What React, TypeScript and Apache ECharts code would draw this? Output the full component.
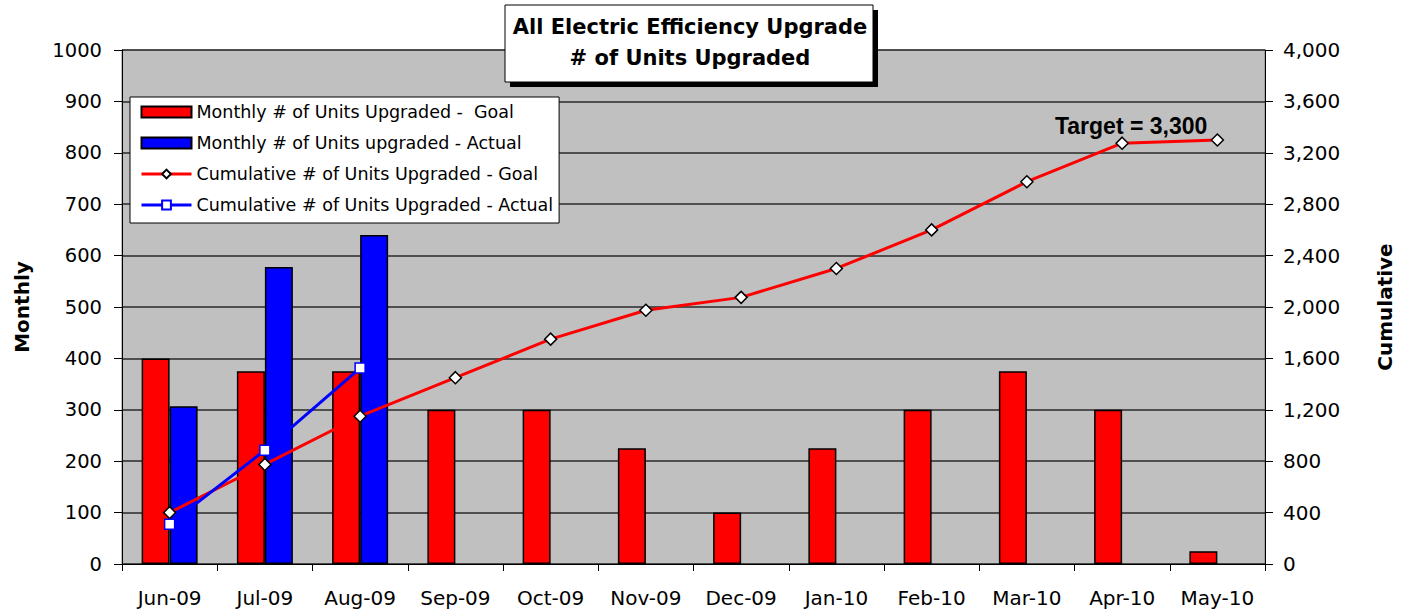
import React, { useEffect, useRef } from "react";
import * as echarts from "echarts";

const categories = ["Jun-09", "Jul-09", "Aug-09", "Sep-09", "Oct-09", "Nov-09", "Dec-09", "Jan-10", "Feb-10", "Mar-10", "Apr-10", "May-10"];
const monthlyGoal = [400, 375, 375, 300, 300, 225, 100, 225, 300, 375, 300, 25];
const monthlyActual: (number | null)[] = [307, 578, 640, null, null, null, null, null, null, null, null, null];
const cumulativeGoal = [400, 775, 1150, 1450, 1750, 1975, 2075, 2300, 2600, 2975, 3275, 3300];
const cumulativeActual: (number | null)[] = [310, 885, 1525, null, null, null, null, null, null, null, null, null];
const targetIndex = 10;
const targetLabel = "Target = 3,300";

const names = [
  "Monthly # of Units Upgraded -  Goal",
  "Monthly # of Units upgraded - Actual",
  "Cumulative # of Units Upgraded - Goal",
  "Cumulative # of Units Upgraded - Actual",
];

const FONT = "'DejaVu Sans', Arial, sans-serif";
const ARIAL = "'Liberation Sans', Arial, sans-serif";

export default function App() {
  const ref = useRef<HTMLDivElement>(null);
  useEffect(() => {
    if (!ref.current) return;
    const chart = echarts.init(ref.current, null, { renderer: "svg" });
    const option: any = {
      animation: false,
      textStyle: { fontFamily: FONT },
      grid: {
        left: 122, right: 142, top: 50, bottom: 47,
        show: true, backgroundColor: "#C0C0C0", borderColor: "#808080", borderWidth: 1,
      },
      legend: {
        orient: "vertical",
        left: 130, top: 97,
        backgroundColor: "#fff",
        borderColor: "#000",
        borderWidth: 1,
        borderRadius: 0,
        padding: [6, 6, 9, 10],
        itemWidth: 50,
        itemHeight: 11,
        itemGap: 13,
        textStyle: { fontSize: 17.5, color: "#000", fontFamily: FONT },
        data: [
          { name: names[0], icon: "rect" },
          { name: names[1], icon: "rect" },
          { name: names[2], lineStyle: { width: 3 } },
          { name: names[3], lineStyle: { width: 3 } },
        ],
      },
      xAxis: {
        type: "category",
        data: categories,
        boundaryGap: true,
        axisLine: { lineStyle: { color: "#000", width: 1 } },
        axisTick: { show: true, length: 7, lineStyle: { color: "#000" } },
        axisLabel: { interval: 0, fontSize: 20, color: "#000", margin: 24, fontFamily: FONT },
      },
      yAxis: [
        {
          type: "value", min: 0, max: 1000, interval: 100,
          name: "Monthly", nameLocation: "middle", nameGap: 90, nameRotate: 90,
          nameTextStyle: { fontSize: 20, fontWeight: "bold", color: "#000", fontFamily: FONT },
          axisLine: { show: true, lineStyle: { color: "#000" } },
          axisTick: { show: true, length: 8, lineStyle: { color: "#000" } },
          axisLabel: {
            fontSize: 19.5, color: "#000", margin: 20, fontFamily: FONT,
            formatter: (v: number) => String(v),
          },
          splitLine: { show: true, lineStyle: { color: "#2a2a2a", width: 1.5 } },
        },
        {
          type: "value", min: 0, max: 4000, interval: 400,
          name: "Cumulative", nameLocation: "middle", nameGap: 110, nameRotate: 90,
          nameTextStyle: { fontSize: 20, fontWeight: "bold", color: "#000", fontFamily: FONT },
          axisLine: { show: true, lineStyle: { color: "#000" } },
          axisTick: { show: true, length: 8, lineStyle: { color: "#000" } },
          axisLabel: {
            fontSize: 20, color: "#000", margin: 18, fontFamily: FONT,
            formatter: (v: number) => v.toLocaleString("en-US"),
          },
          splitLine: { show: false },
        },
      ],
      series: [
        {
          name: names[0], type: "bar", data: monthlyGoal, yAxisIndex: 0,
          barWidth: 28, barGap: "0%",
          itemStyle: { color: "#FF0000", borderColor: "#000", borderWidth: 1.5 },
        },
        {
          name: names[1], type: "bar", data: monthlyActual, yAxisIndex: 0,
          barWidth: 28, barGap: "0%",
          itemStyle: { color: "#0000FF", borderColor: "#000", borderWidth: 1.5 },
        },
        {
          name: names[2], type: "line", yAxisIndex: 1, z: 5,
          data: cumulativeGoal.map((v, i) =>
            i === targetIndex
              ? {
                  value: v,
                  label: {
                    show: true, position: "top", offset: [9, 6], formatter: targetLabel,
                    fontSize: 23, fontWeight: "bold", color: "#000", fontFamily: ARIAL,
                  },
                }
              : v
          ),
          lineStyle: { color: "#FF0000", width: 3 },
          itemStyle: { color: "#fff", borderColor: "#000", borderWidth: 1.5 },
          symbol: "diamond", symbolSize: 12, showAllSymbol: true,
        },
        {
          name: names[3], type: "line", yAxisIndex: 1, z: 6,
          data: cumulativeActual,
          lineStyle: { color: "#0000FF", width: 3 },
          itemStyle: { color: "#fff", borderColor: "#0000FF", borderWidth: 1.5 },
          symbol: "rect", symbolSize: 10, showAllSymbol: true,
        },
      ],
      graphic: [
        { type: "rect", shape: { x: 510, y: 10, width: 368, height: 77 }, style: { fill: "#000" }, z: 10 },
        { type: "rect", shape: { x: 505, y: 5, width: 368, height: 77 }, style: { fill: "#fff", stroke: "#000", lineWidth: 1 }, z: 11 },
        {
          type: "text", x: 690, y: 27, z: 12,
          style: { text: "All Electric Efficiency Upgrade", fontSize: 21, fontWeight: "bold", fill: "#000", align: "center", verticalAlign: "middle", fontFamily: FONT },
        },
        {
          type: "text", x: 690, y: 58, z: 12,
          style: { text: "# of Units Upgraded", fontSize: 21, fontWeight: "bold", fill: "#000", align: "center", verticalAlign: "middle", fontFamily: FONT },
        },
      ],
    };
    chart.setOption(option);
    return () => chart.dispose();
  }, []);
  return <div ref={ref} style={{ position: "fixed", left: 0, top: 0, width: 1407, height: 611, background: "#fff" }} />;
}
